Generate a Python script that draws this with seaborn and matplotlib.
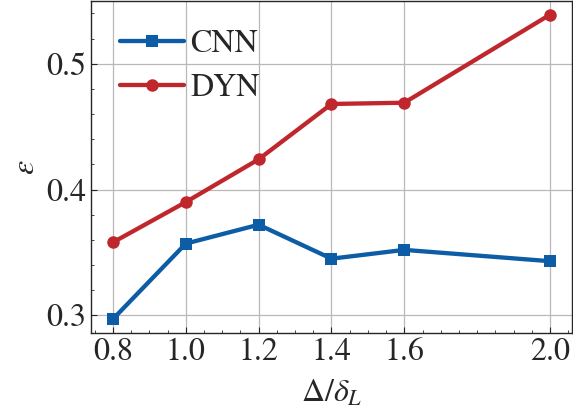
import matplotlib
matplotlib.use('Agg')
import matplotlib.pyplot as plt
import seaborn as sb
import pandas as pd
from matplotlib.ticker import AutoMinorLocator

# data
ratio = [0.8, 1.0, 1.2, 1.4, 1.6, 2.0]
cnn_err = [0.297, 0.357, 0.372, 0.345, 0.352, 0.343]
dyn_err = [0.358, 0.390, 0.424, 0.468, 0.469, 0.539]
x_ticks = [0.8, 1.0, 1.2, 1.4, 1.6, 2.0]
y_ticks = [0.3, 0.4, 0.5]

sb.set_style('ticks')
plt.rcParams['font.family'] = ['STIXGeneral', 'Liberation Serif', 'DejaVu Serif']
plt.rcParams['mathtext.fontset'] = 'stix'

df = pd.DataFrame({
    'ratio': ratio * 2,
    'err': cnn_err + dyn_err,
    'model': ['CNN'] * len(ratio) + ['DYN'] * len(ratio),
})

fig = plt.figure(figsize=(5.73, 4.12), dpi=100)
ax = fig.add_axes([0.159, 0.192, 0.839, 0.806])

ax = sb.lineplot(
    data=df, x='ratio', y='err', hue='model', style='model',
    markers={'CNN': 's', 'DYN': 'o'}, dashes=False,
    palette={'CNN': '#0C5DA5', 'DYN': '#C0272D'},
    linewidth=3.1, markersize=9, markeredgewidth=0, ax=ax,
)

ax.set_xlim(0.74, 2.06)
ax.set_ylim(0.286, 0.55)
ax.set_xticks(x_ticks)
ax.set_yticks(y_ticks)
ax.xaxis.set_minor_locator(AutoMinorLocator(4))
ax.yaxis.set_minor_locator(AutoMinorLocator(5))
ax.tick_params(which='both', direction='in', labelsize=23, top=False, right=False)
ax.tick_params(which='major', length=4)
ax.tick_params(which='minor', length=2)
ax.grid(True, color='#b8b8b8', linewidth=0.9)
for sp in ax.spines.values():
    sp.set_linewidth(1.0)

ax.set_xlabel(r'$\Delta/\delta_L$', fontsize=23, labelpad=8)
ax.set_ylabel(r'$\varepsilon$', fontsize=23)

leg = ax.legend(loc='upper left', frameon=False, fontsize=23, handlelength=2.0,
                borderaxespad=0.5, handletextpad=0.2, labelspacing=0.45)

fig.savefig('out.png', dpi=100)
